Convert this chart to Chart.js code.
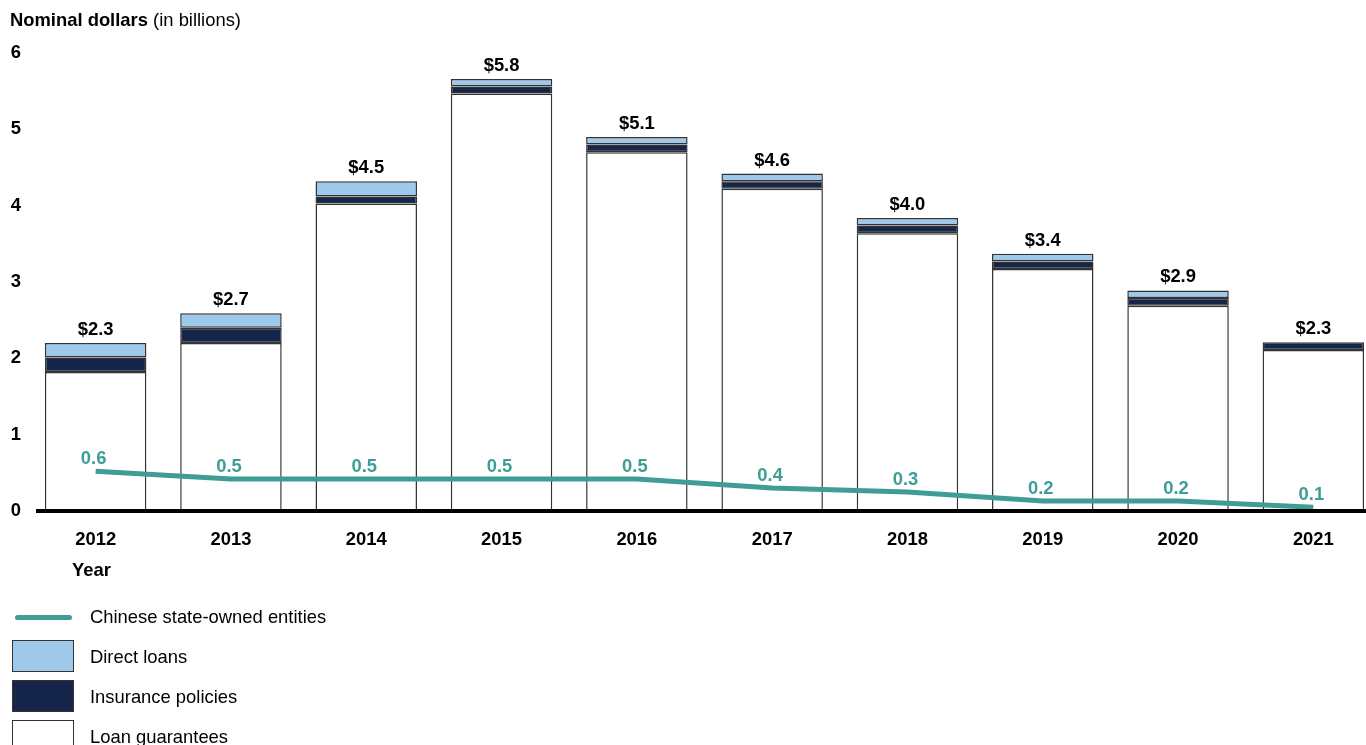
<!DOCTYPE html>
<html>
<head>
<meta charset="utf-8">
<script src="https://cdn.jsdelivr.net/npm/chart.js@4.4.1/dist/chart.umd.min.js"></script>
<style>
  body { margin: 0; background: #fff; overflow: hidden; font-family: "Liberation Sans", Arial, sans-serif; }
  #wrap { position: relative; width: 1366px; height: 745px; overflow: hidden; }
  #title { position: absolute; left: 10px; top: 9px; font-size: 18.4px; color: #000; }
  #chartBox { position: absolute; left: 0; top: 0; width: 1390px; height: 600px; }
  #legend { position: absolute; left: 0; top: 597px; }
  .row { position: relative; height: 40px; width: 500px; }
  .row .sw { position: absolute; left: 12px; top: 3px; width: 60px; height: 30px; border: 1.5px solid #333; }
  .row .ln { position: absolute; left: 15px; top: 18px; width: 57px; height: 5px; border-radius: 3px; background: #3e9d94; }
  .row .tx { position: absolute; left: 90px; top: 0; line-height: 40px; font-size: 18.4px; color: #000; }
</style>
</head>
<body>
<div id="wrap">
  <div id="chartBox"><canvas id="myChart" width="1390" height="600"></canvas></div>
  <div id="title"><b>Nominal dollars</b> (in billions)</div>
  <div id="legend"></div>
</div>
<script>
const years = ['2012', '2013', '2014', '2015', '2016', '2017', '2018', '2019', '2020', '2021'];
const loanGuarantees = [1.82, 2.20, 4.03, 5.47, 4.70, 4.22, 3.64, 3.17, 2.69, 2.11];
const insurancePolicies = [0.19, 0.20, 0.09, 0.09, 0.10, 0.10, 0.10, 0.10, 0.10, 0.10];
const directLoans = [0.19, 0.19, 0.20, 0.10, 0.10, 0.10, 0.10, 0.10, 0.10, 0.00];
const chineseSOE = [0.52, 0.42, 0.42, 0.42, 0.42, 0.30, 0.25, 0.13, 0.13, 0.05];
const totalLabels = ['$2.3', '$2.7', '$4.5', '$5.8', '$5.1', '$4.6', '$4.0', '$3.4', '$2.9', '$2.3'];
const soeLabels = ['0.6', '0.5', '0.5', '0.5', '0.5', '0.4', '0.3', '0.2', '0.2', '0.1'];
const yTicks = [0, 1, 2, 3, 4, 5, 6];

const FONT = '"Liberation Sans", Arial, sans-serif';
const TEAL = '#3e9d94';
const LIGHT = '#9fc9eb';
const NAVY = '#16254a';

// labels, baseline and axis title drawn by hand
const extras = {
  id: 'extras',
  afterDatasetsDraw(chart) {
    const ctx = chart.ctx;
    const x = chart.scales.x, y = chart.scales.y;
    const y0 = y.getPixelForValue(0);
    ctx.save();
    ctx.strokeStyle = '#000';
    ctx.lineWidth = 4;
    ctx.beginPath();
    ctx.moveTo(chart.chartArea.left + 8, y0);
    ctx.lineTo(1366, y0);
    ctx.stroke();

    ctx.textAlign = 'center';
    ctx.textBaseline = 'middle';
    ctx.font = 'bold 18.4px ' + FONT;
    years.forEach((yr, i) => {
      const cx = x.getPixelForValue(i);
      const total = loanGuarantees[i] + insurancePolicies[i] + directLoans[i];
      ctx.fillStyle = '#000';
      ctx.fillText(totalLabels[i], cx, y.getPixelForValue(total) - 13);
      ctx.fillStyle = TEAL;
      ctx.fillText(soeLabels[i], cx - 2, y.getPixelForValue(chineseSOE[i]) - 12);
    });

    ctx.fillStyle = '#000';
    ctx.textAlign = 'left';
    ctx.fillText('Year', 72, 571);
    ctx.restore();
  }
};

const chart = new Chart(document.getElementById('myChart'), {
  data: {
    labels: years,
    datasets: [
      {
        type: 'line', label: 'Chinese state-owned entities', data: chineseSOE,
        borderColor: TEAL, borderWidth: 5, pointRadius: 0, tension: 0,
        stack: 'line', order: 0
      },
      {
        type: 'bar', label: 'Loan guarantees', data: loanGuarantees,
        backgroundColor: '#fff', borderColor: '#333', borderWidth: 1.5, borderSkipped: false,
        stack: 'bars', order: 1
      },
      {
        type: 'bar', label: 'Insurance policies', data: insurancePolicies,
        backgroundColor: NAVY, borderColor: '#333', borderWidth: 1.5, borderSkipped: false,
        stack: 'bars', order: 1
      },
      {
        type: 'bar', label: 'Direct loans', data: directLoans,
        backgroundColor: LIGHT, borderColor: '#333', borderWidth: 1.5, borderSkipped: false,
        stack: 'bars', order: 1
      }
    ]
  },
  options: {
    responsive: false,
    animation: false,
    devicePixelRatio: 1,
    layout: { padding: { left: 0, right: 9, top: 53, bottom: 39 } },
    datasets: { bar: { barPercentage: 0.75, categoryPercentage: 1 } },
    plugins: { legend: { display: false }, tooltip: { enabled: false } },
    scales: {
      x: {
        stacked: true,
        grid: { display: false, drawTicks: false },
        border: { display: false },
        ticks: { color: '#000', font: { family: FONT, size: 18.4, weight: 'bold' }, padding: 18, maxRotation: 0 },
        afterFit: s => { s.height = 50; }
      },
      y: {
        stacked: true,
        min: 0, max: 6,
        grid: { display: false, drawTicks: false },
        border: { display: false },
        afterBuildTicks: s => { s.ticks = yTicks.map(v => ({ value: v })); },
        ticks: { color: '#000', font: { family: FONT, size: 18.4, weight: 'bold' }, padding: 7 },
        afterFit: s => { s.width = 28; }
      }
    }
  },
  plugins: [extras]
});

// legend
const legendItems = [
  { text: 'Chinese state-owned entities', line: true },
  { text: 'Direct loans', color: LIGHT },
  { text: 'Insurance policies', color: NAVY },
  { text: 'Loan guarantees', color: '#fff' }
];
const legend = document.getElementById('legend');
legendItems.forEach(it => {
  const row = document.createElement('div');
  row.className = 'row';
  const sw = document.createElement('div');
  if (it.line) {
    sw.className = 'ln';
  } else {
    sw.className = 'sw';
    sw.style.background = it.color;
  }
  const tx = document.createElement('div');
  tx.className = 'tx';
  tx.textContent = it.text;
  row.appendChild(sw);
  row.appendChild(tx);
  legend.appendChild(row);
});
</script>
</body>
</html>
